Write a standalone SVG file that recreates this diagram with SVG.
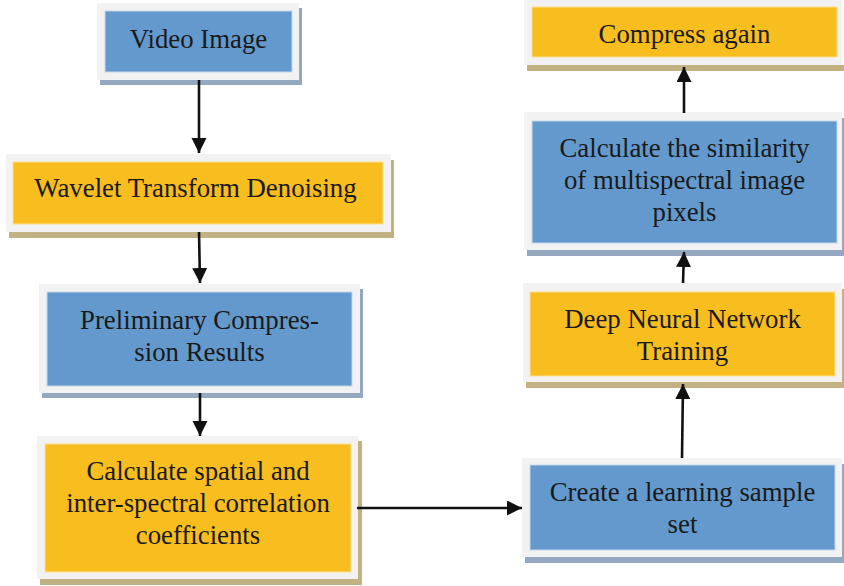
<svg xmlns="http://www.w3.org/2000/svg" width="844" height="586" viewBox="0 0 844 586">
<defs>
<style>
.frame{fill:#f2f2f2}
.shb{fill:#94a9c0}
.sht{fill:#c2b283}
.blue{fill:#6399cc;stroke:#c5d7ea;stroke-width:1}
.yel{fill:#f8bd1f;stroke:#fbe08e;stroke-width:1}
text{font-family:"Liberation Serif","Times New Roman",serif;font-size:26.8px;fill:#1a1a1a;text-anchor:middle}
.conn line{stroke:#111;stroke-width:2.6}
</style>
<marker id="ah" markerUnits="userSpaceOnUse" markerWidth="16" markerHeight="16" refX="15" refY="7.5" orient="auto" viewBox="0 0 16 16">
<path d="M0,0 L15,7.5 L0,15 z" fill="#111"/>
</marker>
</defs>
<rect width="844" height="586" fill="#ffffff"/>

<g id="video-image">
<rect class="shb" x="100" y="8" width="202" height="77"/>
<rect class="frame" x="97" y="3" width="202" height="77"/>
<rect class="blue" x="105" y="11" width="187" height="61"/>
<text x="198.5" y="48">Video Image</text>
</g>

<g id="wavelet">
<rect class="sht" x="9" y="160" width="385" height="78"/>
<rect class="frame" x="6" y="154" width="385" height="78"/>
<rect class="yel" x="13" y="162" width="370" height="62"/>
<text x="195.5" y="197">Wavelet Transform Denoising</text>
</g>

<g id="preliminary">
<rect class="shb" x="42" y="289" width="321" height="109"/>
<rect class="frame" x="39" y="284" width="321" height="109"/>
<rect class="blue" x="47" y="292" width="305" height="94"/>
<text x="199.5" y="329">Preliminary Compres-</text>
<text x="199.5" y="361">sion Results</text>
</g>

<g id="correlation">
<rect class="sht" x="40" y="441" width="322" height="144"/>
<rect class="frame" x="37" y="436" width="321" height="143"/>
<rect class="yel" x="45" y="444" width="306" height="128"/>
<text x="198" y="480">Calculate spatial and</text>
<text x="198" y="512">inter-spectral correlation</text>
<text x="198" y="544">coefficients</text>
</g>

<g id="sample-set">
<rect class="shb" x="525" y="464" width="320" height="99"/>
<rect class="frame" x="522" y="458" width="320" height="99"/>
<rect class="blue" x="530" y="465" width="305" height="85"/>
<text x="682.5" y="501">Create a learning sample</text>
<text x="682.5" y="533">set</text>
</g>

<g id="dnn-training">
<rect class="sht" x="526" y="289" width="319" height="99"/>
<rect class="frame" x="523" y="283" width="319" height="99"/>
<rect class="yel" x="530" y="292" width="305" height="84"/>
<text x="682.5" y="328">Deep Neural Network</text>
<text x="682.5" y="360">Training</text>
</g>

<g id="similarity">
<rect class="shb" x="527" y="118" width="318" height="138"/>
<rect class="frame" x="524" y="112" width="318" height="138"/>
<rect class="blue" x="532" y="121" width="305" height="122"/>
<text x="684.5" y="157">Calculate the similarity</text>
<text x="684.5" y="189">of multispectral image</text>
<text x="684.5" y="221">pixels</text>
</g>

<g id="compress-again">
<rect class="sht" x="527" y="65" width="318" height="6"/>
<rect class="frame" x="524" y="0" width="318" height="65"/>
<rect class="yel" x="532" y="7" width="305" height="50"/>
<text x="684.5" y="43">Compress again</text>
</g>

<g id="connectors" class="conn">
<line x1="199" y1="80" x2="199" y2="153" marker-end="url(#ah)"/>
<line x1="199" y1="232" x2="200" y2="283" marker-end="url(#ah)"/>
<line x1="200" y1="393" x2="200" y2="436" marker-end="url(#ah)"/>
<line x1="357" y1="508" x2="522" y2="508" marker-end="url(#ah)"/>
<line x1="682" y1="458" x2="683" y2="384" marker-end="url(#ah)"/>
<line x1="683" y1="283" x2="684" y2="252" marker-end="url(#ah)"/>
<line x1="684" y1="113" x2="684" y2="67" marker-end="url(#ah)"/>
</g>
</svg>
